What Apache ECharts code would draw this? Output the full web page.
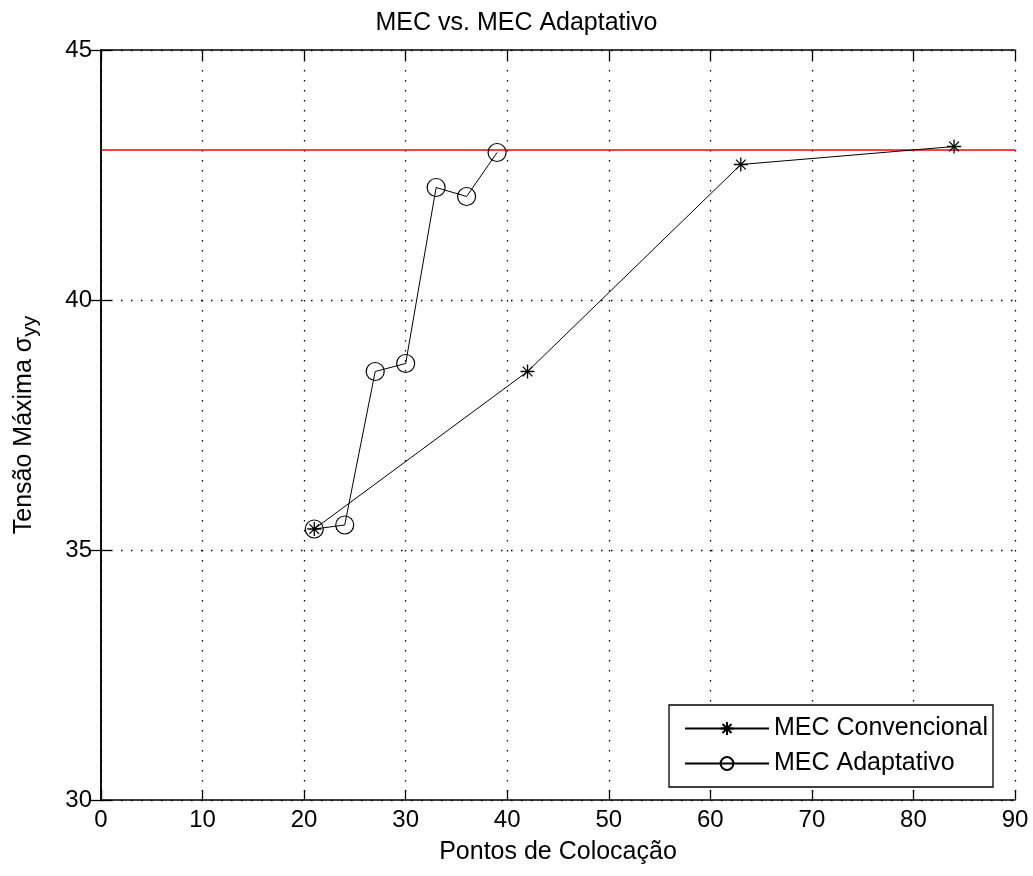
<!DOCTYPE html>
<html><head><meta charset="utf-8">
<script src="https://cdn.jsdelivr.net/npm/echarts@6/dist/echarts.min.js"></script>
<style>html,body{margin:0;padding:0;background:#fff}#c{width:1033px;height:876px}</style>
</head><body><div id="c"></div>
<script>
var convX = [21, 42, 63, 84];
var convY = [35.42, 38.57, 42.71, 43.07];
var adapX = [21, 24, 27, 30, 33, 36, 39];
var adapY = [35.42, 35.5, 38.57, 38.73, 42.25, 42.07, 42.95];
var refValue = 43.0;
var xRange = [0, 90, 10];
var yRange = [30, 45, 5];

var FONT = 'Liberation Sans, Arial, sans-serif';
var asterisk = 'path://M0,-10 L0,10 M-10,0 L10,0 M-7,-7 L7,7 M-7,7 L7,-7';
function pairs(xs, ys){ return xs.map(function(x,i){return [x, ys[i]];}); }
var gridLine = { show: true, lineStyle: { color: '#000', type: [1.5, 8.5], width: 1.3 } };
var axLine = { show: true, lineStyle: { color: '#000', width: 1.5 } };
var tick = { show: true, inside: true, length: 10, lineStyle: { color: '#000', width: 1.3 } };

var chart = echarts.init(document.getElementById('c'));
chart.setOption({
  animation: false,
  backgroundColor: '#fff',
  title: { text: 'MEC vs. MEC Adaptativo', left: 'center', top: 6,
    textStyle: { fontFamily: FONT, fontSize: 25, fontWeight: 'normal', color: '#000' } },
  grid: { left: 101, right: 18, top: 50, bottom: 76 },
  legend: {
    data: ['MEC Convencional', 'MEC Adaptativo'],
    orient: 'vertical', right: 40, bottom: 89,
    backgroundColor: '#fff', borderColor: '#000', borderWidth: 1.3,
    padding: [11, 5, 11, 15], itemGap: 10, itemWidth: 84, itemHeight: 16,
    textStyle: { fontFamily: FONT, fontSize: 25, color: '#000' }
  },
  xAxis: [{
    type: 'value', min: xRange[0], max: xRange[1], interval: xRange[2],
    name: 'Pontos de Colocação', nameLocation: 'middle', nameGap: 40,
    nameTextStyle: { fontFamily: FONT, fontSize: 25, color: '#000' },
    axisLine: axLine, axisTick: tick,
    axisLabel: { fontFamily: FONT, fontSize: 24, color: '#000', margin: 8 },
    splitLine: gridLine
  }, {
    type: 'value', min: xRange[0], max: xRange[1], interval: xRange[2], position: 'top',
    axisLine: axLine, axisTick: tick,
    axisLabel: { show: false }, splitLine: { show: false }
  }],
  yAxis: [{
    type: 'value', min: yRange[0], max: yRange[1], interval: yRange[2],
    name: 'Tensão Máxima σ{sub|yy}', nameLocation: 'middle', nameGap: 60,
    nameTextStyle: { fontFamily: FONT, fontSize: 25, color: '#000',
      rich: { sub: { fontFamily: FONT, fontSize: 21, color: '#000', verticalAlign: 'bottom', padding: [12, 0, 0, 0] } } },
    axisLine: axLine, axisTick: tick,
    axisLabel: { fontFamily: FONT, fontSize: 24, color: '#000', margin: 9 },
    splitLine: gridLine
  }, {
    type: 'value', min: yRange[0], max: yRange[1], interval: yRange[2], position: 'right',
    axisLine: axLine, axisTick: tick,
    axisLabel: { show: false }, splitLine: { show: false }
  }],
  series: [{
    name: 'ref', type: 'line', silent: true, symbol: 'none', z: 1,
    data: [[xRange[0], refValue], [xRange[1], refValue]],
    lineStyle: { color: '#ff0000', width: 1.5 }
  }, {
    name: 'MEC Convencional', type: 'line', data: pairs(convX, convY),
    symbol: asterisk, symbolSize: 14, z: 3,
    lineStyle: { color: '#000', width: 1 },
    itemStyle: { color: '#000', borderColor: '#000', borderWidth: 1.3 }
  }, {
    name: 'MEC Adaptativo', type: 'line', data: pairs(adapX, adapY),
    symbol: 'circle', symbolSize: 18, z: 3,
    lineStyle: { color: '#000', width: 1 },
    itemStyle: { color: 'rgba(0,0,0,0)', borderColor: '#000', borderWidth: 1.2 }
  }]
});
</script></body></html>
